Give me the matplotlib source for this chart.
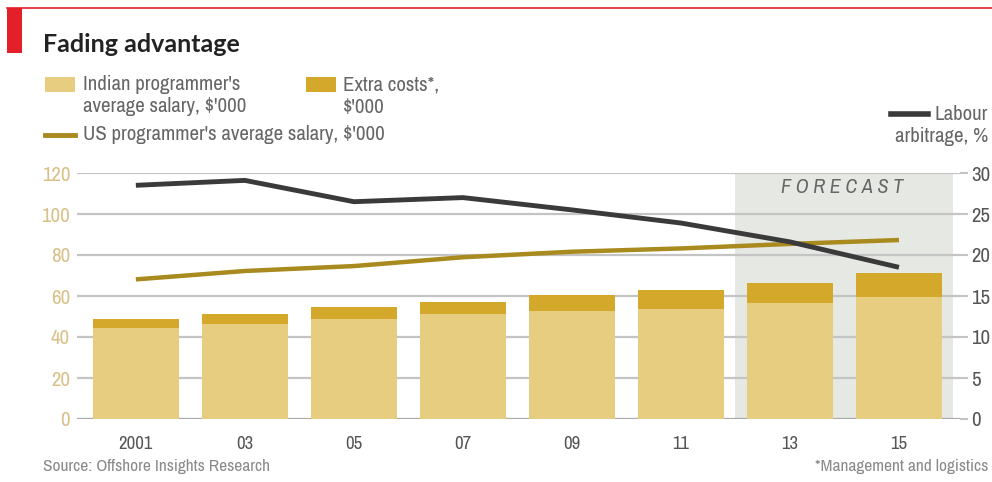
import matplotlib
matplotlib.use("Agg")
import matplotlib.pyplot as plt
from matplotlib.patches import Rectangle
from matplotlib.lines import Line2D
from matplotlib import font_manager as fm

# pick a narrow/condensed face if installed
narrow = None
for f in fm.fontManager.ttflist:
    if 'Narrow' in f.name and f.style == 'normal':
        narrow = (f.name, 'normal'); break
if narrow is None:
    for f in fm.fontManager.ttflist:
        if f.stretch in ('condensed', 'semi-condensed', 'extra-condensed') and f.style == 'normal':
            narrow = (f.name, f.stretch); break
if narrow is None:
    narrow = ('DejaVu Sans', 'normal')
plt.rcParams['font.family'] = [narrow[0], 'DejaVu Sans']
plt.rcParams['font.stretch'] = narrow[1]
SCALE = 1.0 if narrow[0] != 'DejaVu Sans' or narrow[1] != 'normal' else 0.85

years = [2001, 2003, 2005, 2007, 2009, 2011, 2013, 2015]
year_labels = ["2001", "03", "05", "07", "09", "11", "13", "15"]
indian_salary = [44.4, 46.5, 48.6, 51.2, 52.8, 53.8, 56.4, 59.7]
extra_costs = [4.4, 4.5, 5.9, 6.0, 7.7, 9.1, 10.1, 11.3]
us_salary = [68.1, 72.2, 74.6, 78.9, 81.6, 83.2, 85.4, 87.3]
labour_arbitrage = [28.5, 29.1, 26.5, 27.0, 25.5, 23.9, 21.6, 18.5]
left_ticks = [0, 20, 40, 60, 80, 100, 120]
right_ticks = [0, 5, 10, 15, 20, 25, 30]
forecast_span = (2012, 2016)

C_IND = '#E7CD7F'
C_EXTRA = '#D4A92B'
C_US = '#A88A1E'
C_LAB = '#3A3A3A'
C_GRID = '#C4C4C4'
C_SHADE = '#E6E8E4'

def fs(x):
    return x * SCALE

fig = plt.figure(figsize=(9.92, 4.82), dpi=100)
ax = fig.add_axes([77/992, 1-419/482, (960-77)/992, (419-173)/482])

ax.axvspan(*forecast_span, color=C_SHADE, zorder=0, lw=0)
for t in left_ticks:
    ax.axhline(t, color='#AAAAAA' if t == 0 else C_GRID, lw=1.6, zorder=1)

ax.bar(years, indian_salary, width=1.58, color=C_IND, zorder=2, lw=0)
ax.bar(years, extra_costs, bottom=indian_salary, width=1.58, color=C_EXTRA, zorder=2, lw=0)
ax.plot(years, us_salary, color=C_US, lw=3.2, zorder=3, solid_capstyle='butt')

ax.set_xlim(1999.92, 2016.12)
ax.set_ylim(0, 120)
ax.set_yticks(left_ticks)
ax.set_xticks(years)
ax.set_xticklabels(year_labels)
for s in ax.spines.values():
    s.set_visible(False)
ax.tick_params(axis='y', length=0, pad=5, labelsize=fs(15), labelcolor='#D8C189')
ax.tick_params(axis='x', length=0, pad=12, labelsize=fs(13.5), labelcolor='#555555')

ax.text(2013.95, 113, "F O R E C A S T", ha='center', va='center', fontsize=fs(14.5),
        style='italic', color='#666666', zorder=4)

ax2 = ax.twinx()
ax2.plot(years, labour_arbitrage, color=C_LAB, lw=3.5, zorder=5, solid_capstyle='butt')
ax2.set_ylim(0, 30)
ax2.set_yticks(right_ticks)
for s in ax2.spines.values():
    s.set_visible(False)
ax2.tick_params(axis='y', length=6, width=1.5, color=C_GRID, pad=2, labelsize=fs(15), labelcolor='#555555')

# header
fig.add_artist(Line2D([7/992, 1], [1-8/482, 1-8/482], color='#E3202A', lw=1.2))
fig.add_artist(Rectangle((7/992, 1-53/482), 15/992, 45/482, color='#E3202A', lw=0))
fig.text(43/992, 1-45/482, "Fading advantage", fontsize=18, fontweight='bold',
         family=['Lato', 'DejaVu Sans'], fontstretch='normal',
         color='#222222', va='center', ha='left')

# legend
fig.add_artist(Rectangle((45/992, 1-92/482), 30/992, 15/482, color=C_IND, lw=0))
fig.text(83/992, 1-85/482, "Indian programmer's", fontsize=fs(15), color='#666666', va='center')
fig.text(83/992, 1-107/482, "average salary, $'000", fontsize=fs(15), color='#666666', va='center')
fig.add_artist(Rectangle((306/992, 1-92/482), 30/992, 15/482, color=C_EXTRA, lw=0))
fig.text(343/992, 1-85/482, "Extra costs*,", fontsize=fs(15), color='#666666', va='center')
fig.text(343/992, 1-107/482, "$'000", fontsize=fs(15), color='#666666', va='center')
fig.add_artist(Line2D([45/992, 75/992], [1-135/482, 1-135/482], color=C_US, lw=3.5))
fig.text(83/992, 1-134/482, "US programmer's average salary, $'000", fontsize=fs(15),
         color='#666666', va='center')
fig.text(988/992, 1-136/482, "arbitrage, %", fontsize=fs(15), color='#666666', va='center', ha='right')
lab = fig.text(988/992, 1-114/482, "Labour", fontsize=fs(15), color='#666666', va='center', ha='right')
fig.canvas.draw()
bb = lab.get_window_extent()
x1 = (bb.x0 - 7) / 992
fig.add_artist(Line2D([x1 - 37/992, x1], [1-114/482, 1-114/482], color=C_LAB, lw=4))

# footer
fig.text(43/992, 1-467/482, "Source: Offshore Insights Research", fontsize=fs(12.5),
         color='#8A8A8A', va='center')
fig.text(988/992, 1-467/482, "*Management and logistics", fontsize=fs(12.5),
         color='#8A8A8A', va='center', ha='right')

fig.savefig("out.png", dpi=100)
